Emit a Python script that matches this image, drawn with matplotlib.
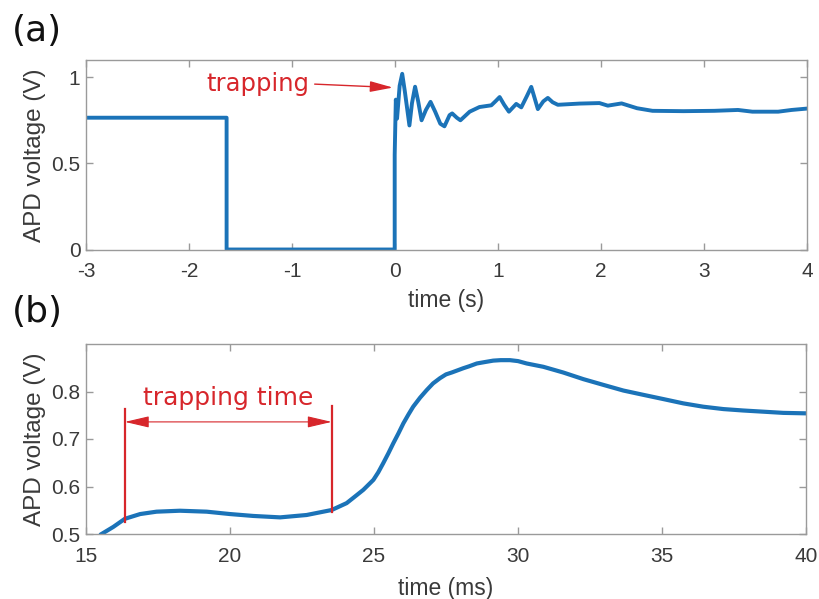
import numpy as np
import matplotlib
matplotlib.use('Agg')
import matplotlib.pyplot as plt

# (a) APD voltage around the trapping event, time in s
t_a = [-3.0, -1.635, -1.635, -0.003, -0.003, 0.008, 0.02, 0.045, 0.07, 0.095, 0.14, 0.165,
       0.195, 0.225, 0.258, 0.3, 0.345, 0.39, 0.44, 0.48, 0.53, 0.555, 0.6, 0.635, 0.68,
       0.725, 0.82, 0.935, 0.975, 1.016, 1.06, 1.106, 1.177, 1.226, 1.28, 1.323, 1.355,
       1.387, 1.44, 1.484, 1.53, 1.581, 1.79, 1.985, 2.066, 2.2, 2.35, 2.5, 2.8, 3.1,
       3.33, 3.47, 3.72, 3.85, 4.0]
v_a = [0.765, 0.765, 0.0, 0.0, 0.55, 0.87, 0.76, 0.95, 1.02, 0.92, 0.72, 0.85,
       0.945, 0.86, 0.75, 0.81, 0.857, 0.8, 0.73, 0.715, 0.78, 0.79, 0.765, 0.75, 0.775,
       0.8, 0.827, 0.837, 0.86, 0.885, 0.84, 0.8, 0.845, 0.825, 0.89, 0.944, 0.88,
       0.815, 0.86, 0.88, 0.855, 0.84, 0.847, 0.85, 0.835, 0.848, 0.82, 0.805, 0.803, 0.805,
       0.81, 0.8, 0.8, 0.81, 0.818]

# (b) zoom on the trapping, time in ms
t_b = [15.54, 15.95, 16.35, 16.88, 17.45, 18.26, 19.19, 20.0, 20.81, 21.74, 22.66, 23.53,
       24.05, 24.3, 24.63, 24.98, 25.15, 25.32, 25.5, 25.67, 25.85, 26.02, 26.2, 26.36,
       26.6, 26.83, 27.05, 27.29, 27.5, 27.7, 28.1, 28.3, 28.57, 28.85, 29.14, 29.4,
       29.72, 30.0, 30.3, 30.88, 31.57, 32.27, 32.96, 33.66, 34.35, 35.05, 35.74, 36.43,
       37.13, 37.82, 38.52, 39.21, 40.0]
v_b = [0.5, 0.515, 0.532, 0.542, 0.547, 0.549, 0.547, 0.542, 0.538, 0.535, 0.54, 0.5505,
       0.565, 0.577, 0.593, 0.614, 0.63, 0.649, 0.67, 0.691, 0.712, 0.733, 0.752, 0.768,
       0.787, 0.803, 0.817, 0.828, 0.836, 0.84, 0.849, 0.853, 0.859, 0.862, 0.865, 0.866,
       0.866, 0.864, 0.859, 0.852, 0.84, 0.826, 0.814, 0.802, 0.793, 0.784, 0.775, 0.768,
       0.763, 0.76, 0.7575, 0.755, 0.754]

xticks_a = [-3, -2, -1, 0, 1, 2, 3, 4]
yticks_a = [0, 0.5, 1]
yticklabels_a = ['0', '0.5', '1']
xticks_b = [15, 20, 25, 30, 35, 40]
yticks_b = [0.5, 0.6, 0.7, 0.8]

# trapping window marks in (b)
trap_start, trap_end = 16.35, 23.53

blue = '#1b73b8'
red = '#d7262b'
spine_col = '#9a9a9a'
text_col = '#3a3a3a'

plt.rcParams['font.family'] = ['Liberation Sans', 'DejaVu Sans']

fig = plt.figure(figsize=(8.2, 5.99), dpi=100)
ax1 = fig.add_axes([86 / 820, 1 - 249.5 / 599, 721 / 820, 189.5 / 599])
ax2 = fig.add_axes([86 / 820, 1 - 534 / 599, 720 / 820, 190 / 599])


def style_axes(ax):
    for s in ax.spines.values():
        s.set_color(spine_col)
        s.set_linewidth(1.0)
    ax.tick_params(direction='in', length=5, width=1, color=spine_col, labelcolor=text_col,
                   labelsize=15, top=True, right=True)
    ax.tick_params(axis='x', pad=9)
    ax.tick_params(axis='y', pad=4)


# ---- panel (a)
ax1.plot(t_a, v_a, color=blue, lw=2.8, solid_joinstyle='round')
ax1.set_xlim(-3, 4)
ax1.set_ylim(0, 1.1)
ax1.set_xticks(xticks_a)
ax1.set_xticklabels([str(x) for x in xticks_a])
ax1.set_yticks(yticks_a)
ax1.set_yticklabels(yticklabels_a)
style_axes(ax1)
ax1.set_xlabel('time (s)', fontsize=16.5, color=text_col, labelpad=6)
ax1.set_ylabel('APD voltage (V)', fontsize=17.5, color=text_col, labelpad=4)

ax1.annotate('', xy=(-0.02, 0.94), xytext=(-0.78, 0.96),
             arrowprops=dict(arrowstyle='-|>,head_length=1.4,head_width=0.33',
                             color=red, lw=1.0, mutation_scale=10, shrinkA=0, shrinkB=0))
ax1.text(-1.33, 0.96, 'trapping', color=red, fontsize=17.5, ha='center', va='center',
         family=['DejaVu Sans'])

# ---- panel (b)
ax2.plot(t_b, v_b, color=blue, lw=3.0, solid_joinstyle='round')
ax2.set_xlim(15, 40)
ax2.set_ylim(0.5, 0.9)
ax2.set_xticks(xticks_b)
ax2.set_yticks(yticks_b)
ax2.set_yticklabels(['0.5', '0.6', '0.7', '0.8'])
style_axes(ax2)
ax2.set_xlabel('time (ms)', fontsize=16.5, color=text_col, labelpad=8)
ax2.set_ylabel('APD voltage (V)', fontsize=17.5, color=text_col, labelpad=4)

ax2.plot([trap_start, trap_start], [0.526, 0.763], color=red, lw=1.6)
ax2.plot([trap_end, trap_end], [0.547, 0.77], color=red, lw=1.6)
ax2.annotate('', xy=(trap_end, 0.736), xytext=(trap_start, 0.736),
             arrowprops=dict(arrowstyle='<|-|>,head_length=1.5,head_width=0.35',
                             color=red, lw=0.8, mutation_scale=10, shrinkA=0, shrinkB=0))
ax2.text(19.93, 0.786, 'trapping time', color=red, fontsize=18, ha='center', va='center',
         family=['DejaVu Sans'])

# panel letters
fig.text(37 / 820, 1 - 31 / 599, '(a)', fontsize=26, ha='center', va='center',
         family=['DejaVu Sans'], color='#111111')
fig.text(37 / 820, 1 - 312 / 599, '(b)', fontsize=26, ha='center', va='center',
         family=['DejaVu Sans'], color='#111111')

plt.savefig('out.png', dpi=100)
